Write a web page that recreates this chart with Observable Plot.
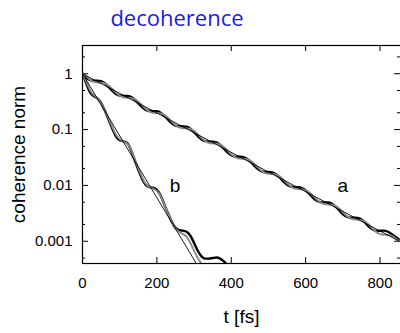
<!DOCTYPE html>
<html><head><meta charset="utf-8">
<script src="https://cdn.jsdelivr.net/npm/d3@7"></script>
<script src="https://cdn.jsdelivr.net/npm/@observablehq/plot@0.6"></script>
<style>
body{margin:0;background:#fff;width:400px;height:333px;overflow:hidden;font-family:"Liberation Sans",Arial,sans-serif}
#title{height:40px;width:354px;text-align:center;font-family:"Open Sans",sans-serif;font-size:22px;color:#1a1ae6;line-height:30px;padding-top:2px;box-sizing:border-box}
#chart svg{display:block}
</style></head><body>
<div id="title">decoherence</div>
<div id="chart"></div>
<script>
// time grid (fs)
const tA = [0,10,20,30,40,50,60,70,80,90,100,110,120,130,140,150,160,170,180,190,200,210,220,230,240,250,260,270,280,290,300,310,320,330,340,350,360,370,380,390,400,410,420,430,440,450,460,470,480,490,500,510,520,530,540,550,560,570,580,590,600,610,620,630,640,650,660,670,680,690,700,710,720,730,740,750,760,770,780,790,800,810,820,830,840,850];
// curve a, thick solid (log10 of coherence norm)
const aSolidLog = [0,-0.075,-0.114,-0.124,-0.124,-0.135,-0.172,-0.235,-0.306,-0.363,-0.391,-0.396,-0.398,-0.415,-0.462,-0.529,-0.598,-0.647,-0.667,-0.669,-0.673,-0.698,-0.753,-0.823,-0.888,-0.928,-0.941,-0.942,-0.950,-0.985,-1.046,-1.116,-1.176,-1.207,-1.215,-1.215,-1.230,-1.274,-1.340,-1.410,-1.461,-1.484,-1.487,-1.489,-1.513,-1.564,-1.633,-1.700,-1.743,-1.759,-1.759,-1.766,-1.798,-1.857,-1.928,-1.989,-2.023,-2.032,-2.032,-2.046,-2.086,-2.150,-2.221,-2.275,-2.301,-2.305,-2.306,-2.327,-2.375,-2.445,-2.512,-2.558,-2.576,-2.577,-2.583,-2.611,-2.667,-2.739,-2.790,-2.815,-2.812,-2.810,-2.825,-2.865,-2.915,-2.960];
// curve a, dotted
const aDotLog = [0,-0.040,-0.107,-0.145,-0.158,-0.161,-0.174,-0.212,-0.271,-0.340,-0.394,-0.422,-0.431,-0.436,-0.455,-0.500,-0.564,-0.631,-0.678,-0.700,-0.704,-0.711,-0.738,-0.791,-0.858,-0.919,-0.959,-0.975,-0.978,-0.990,-1.024,-1.083,-1.150,-1.207,-1.239,-1.249,-1.252,-1.270,-1.313,-1.376,-1.442,-1.492,-1.517,-1.522,-1.528,-1.552,-1.602,-1.669,-1.731,-1.775,-1.792,-1.795,-1.806,-1.837,-1.895,-1.961,-2.020,-2.055,-2.066,-2.070,-2.085,-2.125,-2.187,-2.253,-2.307,-2.333,-2.340,-2.345,-2.366,-2.414,-2.480,-2.544,-2.590,-2.608,-2.614,-2.622,-2.650,-2.705,-2.773,-2.833,-2.871,-2.883,-2.887,-2.900,-2.938,-2.997];
// curve b
const tB = [0,10,20,30,40,50,60,70,80,90,100,110,120,130,140,150,160,170,180,190,200,210,220,230,240,250,260,270,280,290,300,310,320,330,340,350,360,370,380,390];
const bSolidLog = [0,-0.17,-0.33,-0.40,-0.44,-0.52,-0.66,-0.82,-0.98,-1.12,-1.19,-1.21,-1.24,-1.36,-1.54,-1.72,-1.88,-1.99,-2.03,-2.04,-2.08,-2.18,-2.34,-2.50,-2.65,-2.76,-2.80,-2.81,-2.83,-2.90,-3.03,-3.17,-3.27,-3.31,-3.31,-3.30,-3.29,-3.31,-3.36,-3.43];
const tBdot = [0,10,20,30,40,50,60,70,80,90,100,110,120,130,140,150,160,170,180,190,200,210,220,230,240,250,260,270,280,290,300,310,320];
const bDotLog = [0,-0.14,-0.29,-0.38,-0.44,-0.53,-0.66,-0.80,-0.95,-1.09,-1.17,-1.21,-1.25,-1.35,-1.52,-1.69,-1.85,-1.97,-2.03,-2.06,-2.10,-2.19,-2.34,-2.50,-2.65,-2.77,-2.83,-2.87,-2.92,-3.03,-3.17,-3.30,-3.40];
// exponential fits (thin lines): endpoints
const aFitT = [0, 855], aFitLog = [0, -3.01];
const bFitT = [0, 350], bFitLog = [0, -3.885];
// ticks and labels
const xTicks = [0,200,400,600,800];
const yTicks = [1,0.1,0.01,0.001];
const yMinor = [2,0.5,0.2,0.05,0.02,0.005,0.002,0.0005];
const curveLabels = ["a","b"], curveLabelT = [700,249], curveLabelY = [0.01,0.01];

const rows = (t, v) => t.map((d,i)=>({t:d, y: Math.pow(10, v[i])}));
const aSolid = rows(tA, aSolidLog), aDot = rows(tA, aDotLog);
const bSolid = rows(tB, bSolidLog), bDot = rows(tBdot, bDotLog);
const aFit = rows(aFitT, aFitLog), bFit = rows(bFitT, bFitLog);
const labels = curveLabels.map((s,i)=>({s, t:curveLabelT[i], y:curveLabelY[i]}));

const W=400,H=293,ML=82,MR=0,MT=5,MB=70;
const PW=W-ML-MR, PH=H-MT-MB;

const chart = Plot.plot({
  width:W, height:H, marginLeft:ML, marginRight:MR, marginTop:MT, marginBottom:MB,
  style:{fontFamily:"'Liberation Sans', Arial, sans-serif", fontSize:"15px", background:"#fff", color:"#000"},
  x:{domain:[0,855]},
  y:{type:"log", domain:[0.0004,3.2]},
  marks:[
    Plot.axisX(xTicks, {tickSize:0, tickPadding:14, label:null, fontSize:15}),
    Plot.axisY(yTicks, {tickSize:0, tickPadding:10, label:null, tickFormat:d=>String(d), fontSize:15}),
    Plot.tickX(xTicks, {x:d=>d, insetTop:PH-6, stroke:"#000"}),
    Plot.tickX(xTicks, {x:d=>d, insetBottom:PH-6, stroke:"#000"}),
    Plot.tickY(yTicks, {y:d=>d, insetRight:PW-6, stroke:"#000"}),
    Plot.tickY(yTicks, {y:d=>d, insetLeft:PW-6, stroke:"#000"}),
    Plot.tickY(yMinor, {y:d=>d, insetRight:PW-3, stroke:"#000"}),
    Plot.tickY(yMinor, {y:d=>d, insetLeft:PW-3, stroke:"#000"}),
    Plot.line(aSolid, {x:"t", y:"y", stroke:"#000", strokeWidth:2.4, curve:"monotone-x", clip:true}),
    Plot.line(bSolid, {x:"t", y:"y", stroke:"#000", strokeWidth:2.4, curve:"monotone-x", clip:true}),
    Plot.line(aDot, {x:"t", y:"y", stroke:"#888", strokeWidth:2, strokeDasharray:"1 1.5", curve:"monotone-x", clip:true}),
    Plot.line(bDot, {x:"t", y:"y", stroke:"#888", strokeWidth:2, strokeDasharray:"1 1.5", curve:"monotone-x", clip:true}),
    Plot.line(aFit, {x:"t", y:"y", stroke:"#000", strokeWidth:0.9, clip:true}),
    Plot.line(bFit, {x:"t", y:"y", stroke:"#000", strokeWidth:0.9, clip:true}),
    Plot.text(labels, {x:"t", y:"y", text:"s", fontSize:19}),
    Plot.text(["t [fs]"], {frameAnchor:"bottom", dy:59, fontSize:19}),
    Plot.text(["coherence norm"], {frameAnchor:"left", textAnchor:"middle", rotate:-90, dx:-64, fontSize:19}),
    Plot.frame({stroke:"#000", strokeWidth:1.2, insetRight:-3})
  ]
});
document.getElementById("chart").appendChild(chart);
</script>
</body></html>
